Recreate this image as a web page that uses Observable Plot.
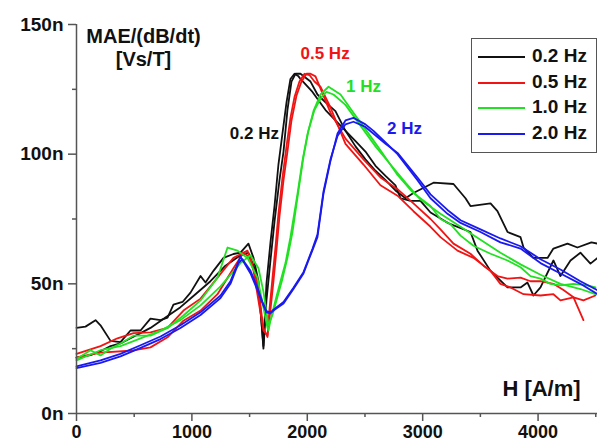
<!DOCTYPE html>
<html>
<head>
<meta charset="utf-8">
<script src="https://cdn.jsdelivr.net/npm/d3@7"></script>
<script src="https://cdn.jsdelivr.net/npm/@observablehq/plot@0.6"></script>
<style>
  html, body { margin: 0; padding: 0; background: #fff; }
  #wrap { position: relative; width: 597px; height: 442px; font-family: Arial, "Liberation Sans", sans-serif; }
  g[aria-label="x-axis tick"], g[aria-label="y-axis tick"] { stroke: #555; stroke-width: 1.5px; }
  #legend { position: absolute; left: 471px; top: 38px; width: 124px; height: 113px; border: 1.5px solid #555; background: #fff; }
  #legend .row { position: absolute; left: 6px; height: 20px; }
  #legend .sw { position: absolute; left: 0; top: 9px; width: 47px; height: 2px; }
  #legend .lb { position: absolute; left: 54px; top: -2px; font-size: 19px; font-weight: bold; color: #111; white-space: nowrap; }
</style>
</head>
<body>
<div id="wrap"></div>
<script>
// ---- data: H [A/m], MAE/(dB/dt) in nVs/T ----
const seriesNames = ["0.2 Hz", "0.5 Hz", "1.0 Hz", "2.0 Hz"];
const seriesColors = ["#111111", "#f01414", "#22e022", "#1a1af0"];

const black02a = [[0,33],[78,33.5],[165,36],[208,34],[295,28],[381,27.5],[468,32],[555,32],[641,36.6],[728,36],[789,37],[840,42],[919,43],[988,46.6],[1075,53],[1118,50.5],[1187,55],[1274,60],[1360,61.5],[1421,62],[1490,65.5],[1534,60],[1577,51],[1620,25],
  [1646,43.5],[1681,59],[1716,74],[1759,90],[1794,101],[1828,117],[1863,128],[1898,131],[1941,131],
  [2028,128],[2088,123],[2158,120],[2244,116.6],[2331,109],[2418,103],[2504,98],[2591,93.6],[2678,90],[2764,86],[2851,83],[2920,85],[3094,89],[3267,88.5],[3371,83],[3414,80],[3588,81],[3648,78],[3735,70],[3848,68],[3874,64],[3960,60],[4082,60],[4133,63.6],[4255,65.5],[4341,64],[4462,66],[4515,65.5]];
const black02b = [[0,21.5],[121,22.5],[208,24],[295,26],[381,27],[468,29],[555,31],[641,33],[771,37],[901,41],[1031,46],[1161,51],[1291,57],[1421,61],[1490,62],[1551,55],[1594,40],[1620,26],
  [1646,50],[1681,66],[1716,80],[1750,96],[1785,108],[1820,120],[1854,129],[1889,131],[1924,130],
  [1941,129],[2045,124],[2158,117],[2288,111],[2418,105],[2504,101],[2591,95.5],[2678,91.6],[2764,88],[2808,83],[2894,82],[2981,82],[3068,77.5],[3198,74],[3241,73],[3414,70],[3475,62.8],[3588,55],[3735,48.6],[3848,48.6],[3908,50.5],[3960,45.5],[4021,48.6],[4133,59],[4194,53],[4281,59],[4367,62],[4454,57.8],[4515,60]];

const red05a = [[0,23],[208,26],[355,29],[494,31],[641,31.3],[789,33],[927,39.7],[1075,44.3],[1222,52.4],[1360,60],[1482,62.8],[1534,55],[1620,32],[1655,30],
  [1681,40],[1707,51],[1733,63],[1759,76],[1794,90],[1828,101],[1863,113],[1906,122.5],[1950,128],[1993,131],[2028,131],[2071,130],
  [2201,116],[2331,106],[2487,98],[2634,91],[2782,86.5],[2920,81],[3068,75],[3154,71],[3267,65.5],[3414,61.6],[3527,57],[3648,53],[3735,52],[3848,52.4],[3934,51],[4021,51],[4133,50],[4220,47.6],[4307,44.8],[4393,36]];
const red05b = [[0,21.6],[208,23.5],[494,24.3],[641,25.5],[789,29.4],[927,35.8],[1075,39.7],[1222,46],[1360,56],[1447,62],[1508,60],[1568,50],[1620,33],[1655,29.5],
  [1672,40],[1698,52],[1724,64],[1750,77],[1785,91],[1820,103],[1854,114],[1889,122],[1932,128],[1976,131],[2019,130.5],[2062,128],[2114,126],
  [2201,118],[2331,104],[2487,96],[2634,88],[2782,84],[2920,78],[3068,72],[3154,68],[3302,62.8],[3440,60],[3588,55],[3674,50],[3761,48.6],[3874,46],[4021,45.5],[4133,46],[4194,43.6],[4307,44.8],[4393,43.6],[4497,45.5]];

const green10a = [[0,21],[121,24.4],[208,22.4],[295,25],[381,27],[494,30],[641,30],[789,33],[927,37.8],[1075,43.6],[1222,52.4],[1309,64],[1395,62.8],[1482,60],[1568,52.4],[1655,33],[1664,32],
  [1681,36],[1724,43.6],[1768,51],[1811,58],[1854,68],[1915,84.7],[1958,97.4],[2002,107.8],[2054,116.7],[2114,123],[2184,126],
  [2288,123],[2400,116],[2522,108.5],[2634,101.5],[2782,92],[2920,85],[3068,80],[3154,75],[3241,73],[3328,68.6],[3440,64.7],[3588,61.6],[3735,59],[3848,56.4],[3934,53],[4021,52],[4107,50],[4194,49.4],[4307,50],[4428,49.4],[4497,48.6]];
const green10b = [[0,20.5],[208,24.4],[381,26],[555,29],[728,32],[901,36],[1075,41.7],[1248,49],[1421,58],[1508,61],[1577,56],[1620,47],[1664,34],
  [1698,38],[1742,45],[1785,52],[1828,60],[1872,70],[1924,86],[1967,99],[2010,109],[2062,117],[2123,122],[2166,124],[2227,123],
  [2331,119],[2461,111],[2591,103],[2721,96],[2851,89],[2981,82.5],[3154,77],[3328,72],[3501,67],[3674,62],[3848,57.5],[4021,53.5],[4194,50],[4367,48],[4497,46]];

const blue20a = [[0,18.2],[208,20.5],[381,23],[555,26.3],[728,29.7],[901,34],[1075,39],[1248,45.5],[1334,51],[1421,60.5],[1508,54],[1568,47.6],[1612,42.4],[1646,39],[1681,38.6],[1707,39.7],[1794,42.4],[1880,48],[1967,54],[2010,59],[2045,63],[2088,68],[2140,84.7],[2201,97.4],[2262,108],[2331,113],[2400,114],[2504,111.5],[2574,109],[2678,104.5],[2782,100],[2955,90],[3068,83],[3215,77],[3328,73.5],[3501,70],[3674,66],[3848,63.6],[4021,58],[4194,54],[4367,50],[4515,46]];
const blue20b = [[0,17.5],[208,19.5],[381,22],[555,25.3],[728,28.7],[901,33],[1075,38],[1248,44.5],[1334,50],[1404,58],[1438,59.5],[1508,55],[1568,48.5],[1612,43],[1646,39.5],[1681,39],[1707,40],[1794,43],[1880,48.5],[1967,54.5],[2010,59.5],[2045,63.5],[2088,69],[2140,85.5],[2201,98],[2262,107],[2331,111.5],[2400,112.5],[2504,110.5],[2678,104],[2782,100.5],[2955,91],[3068,84.5],[3215,78.5],[3328,74.5],[3501,71],[3674,67.5],[3848,64.5],[4021,59.5],[4194,55.5],[4367,51],[4515,47.5]];

const branches = [
  {s: 0, pts: black02a}, {s: 0, pts: black02b},
  {s: 1, pts: red05a},   {s: 1, pts: red05b},
  {s: 2, pts: green10a}, {s: 2, pts: green10b},
  {s: 3, pts: blue20a},  {s: 3, pts: blue20b}
];

// ticks
const yMajor = [0, 50, 100, 150];
const yMinor = [25, 75, 125];
const xMajor = [0, 1000, 2000, 3000, 4000];
const xMinor = [500, 1500, 2500, 3500, 4500];

// in-plot curve annotations (H at text centre, value, text)
const curveLabels = [
  {h: 1542, v: 108, t: "0.2 Hz", s: 0},
  {h: 2154, v: 138.8, t: "0.5 Hz", s: 1},
  {h: 2487, v: 126, t: "1 Hz", s: 2},
  {h: 2842, v: 110, t: "2 Hz", s: 3}
];

const lineMarks = branches.map(b => Plot.line(b.pts, {
  x: d => d[0], y: d => d[1], stroke: seriesColors[b.s], strokeWidth: 1.8, curve: "linear"
}));

const chart = Plot.plot({
  width: 597, height: 442,
  marginLeft: 76, marginTop: 24, marginBottom: 29, marginRight: 0,
  x: {domain: [0, 4515]},
  y: {domain: [0, 150]},
  style: {fontFamily: "Arial, 'Liberation Sans', sans-serif", fontWeight: "bold", fontSize: "19px", background: "#fff", color: "#111", overflow: "visible"},
  marks: [
    Plot.axisY({ticks: yMinor, tickSize: 4, tickFormat: () => "", label: null}),
    Plot.axisX({ticks: xMinor, tickSize: 4, tickFormat: () => "", label: null}),
    Plot.axisY({ticks: yMajor, tickSize: 8, tickPadding: 5, tickFormat: d => d + "n", fontSize: 19, label: null}),
    Plot.axisX({ticks: xMajor, tickSize: 8, tickPadding: 4, tickFormat: d => String(d), fontSize: 18, label: null}),
    ...lineMarks,
    Plot.ruleX([0], {stroke: "#555", strokeWidth: 1.5}),
    Plot.ruleY([0], {stroke: "#555", strokeWidth: 1.5}),
    Plot.text(curveLabels, {x: "h", y: "v", text: "t", fill: d => seriesColors[d.s], textAnchor: "middle", lineAnchor: "middle", fontSize: 17, fontWeight: "bold"}),
    Plot.text(["MAE/(dB/dt)"], {frameAnchor: "top-left", dx: 67, dy: 12, textAnchor: "middle", lineAnchor: "middle", fontSize: 20, fontWeight: "bold", fill: "#111"}),
    Plot.text(["[Vs/T]"], {frameAnchor: "top-left", dx: 67, dy: 35, textAnchor: "middle", lineAnchor: "middle", fontSize: 20, fontWeight: "bold", fill: "#111"}),
    Plot.text(["H [A/m]"], {frameAnchor: "bottom-right", dx: -56, dy: -24.5, textAnchor: "middle", lineAnchor: "middle", fontSize: 22, fontWeight: "bold", fill: "#111"})
  ]
});

const wrap = document.getElementById("wrap");
wrap.appendChild(chart);

// legend
const legend = document.createElement("div");
legend.id = "legend";
seriesNames.forEach((name, i) => {
  const row = document.createElement("div");
  row.className = "row";
  row.style.top = (8 + i * 25.7) + "px";
  const sw = document.createElement("div");
  sw.className = "sw";
  sw.style.background = seriesColors[i];
  const lb = document.createElement("div");
  lb.className = "lb";
  lb.textContent = name;
  row.appendChild(sw);
  row.appendChild(lb);
  legend.appendChild(row);
});
wrap.appendChild(legend);
</script>
</body>
</html>
